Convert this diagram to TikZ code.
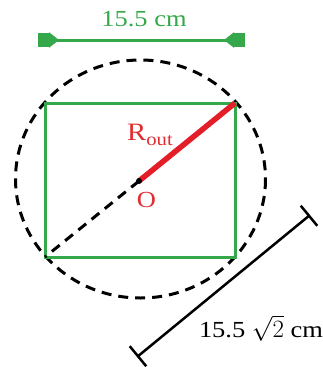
\documentclass[tikz,border=0pt]{standalone}
\usepackage{fontspec}
\setmainfont[FakeStretch=1.15]{Liberation Serif}
\usetikzlibrary{arrows.meta}
\definecolor{dimgreen}{RGB}{52,168,74}
\definecolor{radred}{RGB}{228,30,40}
\definecolor{labred}{RGB}{225,45,50}
\begin{document}
\begin{tikzpicture}[x=1pt,y=-1pt,
  lbl/.style={font=\fontsize{23}{26}\selectfont, inner sep=0pt},
  rim/.style={line width=3pt, dash pattern=on 10pt off 7pt},
  frame/.style={draw=dimgreen, line width=3pt},
  radline/.style={draw=radred, line width=5.5pt},
  greendim/.style={draw=dimgreen, fill=dimgreen, line width=3pt,
    {Square[length=11pt,width=14pt] Triangle[reversed,length=10pt,width=15pt]}-{Triangle[reversed,length=10pt,width=15pt] Square[length=11pt,width=14pt]}},
  blackdim/.style={line width=2.5pt, {Bar[width=26pt]}-{Bar[width=26pt]}},
  dotnode/.style={circle, fill=black, inner sep=0pt, minimum size=6pt}]
\useasboundingbox (0,0) rectangle (322,367);
% corners and centre
\coordinate (TL) at (45,103);
\coordinate (TR) at (235,103);
\coordinate (BR) at (235,257);
\coordinate (BL) at (45,257);
\coordinate (O) at (139,181);
% circumscribed circle
\draw[rim] (140.5,179) ellipse [x radius=125, y radius=119];
% rectangle
\draw[frame] (TL) -- (TR) -- (BR) -- (BL) -- cycle;
% radius lines
\draw[rim] (O) -- (BL);
\draw[radline] (O) -- (TR);
\node[dotnode] (Odot) at (O) {};
% top dimension
\coordinate (DL) at (38,40);
\coordinate (DR) at (245,40);
\draw[greendim] (DL) -- (DR);
\node[lbl, text=dimgreen] (toplab) at (144,19) {15.5 cm};
% diagonal dimension
\coordinate (E1) at (137,357);
\coordinate (E2) at (310,215);
\draw[blackdim] (E1) -- (E2);
\node[lbl] (diaglab) at (261,328) {15.5 $\sqrt{2}$ cm};
% labels
\node[lbl, text=labred, font=\fontsize{25}{28}\selectfont] (routlab) at (150,135) {R\raisebox{-5pt}{\fontsize{18}{18}\selectfont out}};
\node[lbl, text=labred] (olab) at (146.5,200) {O};
\end{tikzpicture}
\end{document}
